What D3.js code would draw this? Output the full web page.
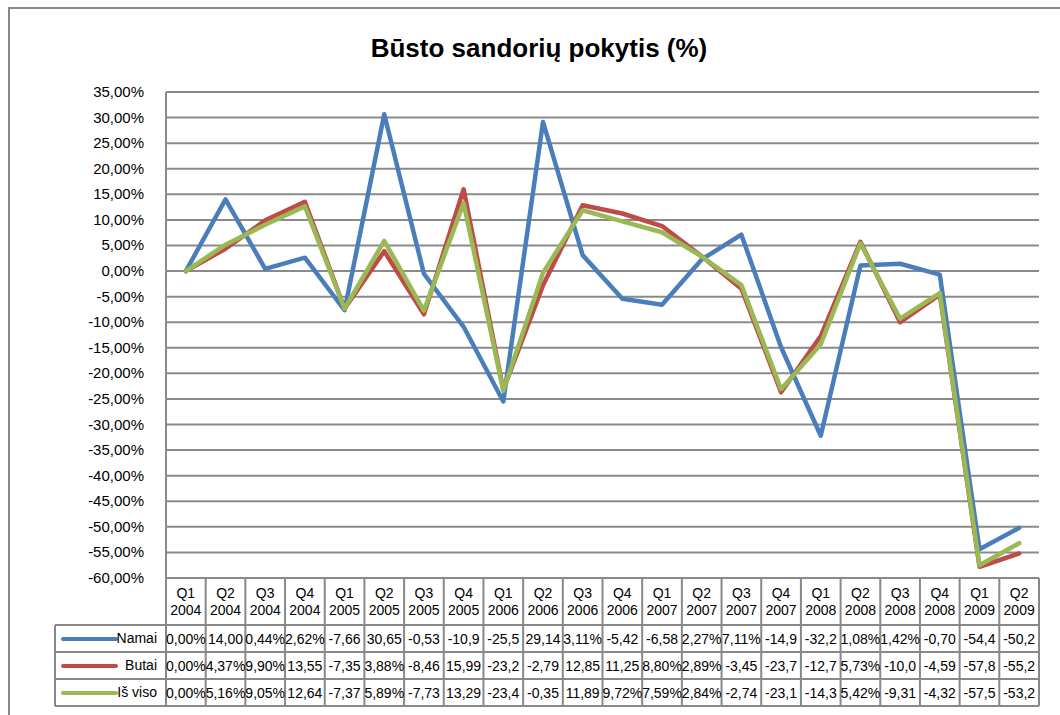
<!DOCTYPE html>
<html>
<head>
<meta charset="utf-8">
<script src="https://cdn.jsdelivr.net/npm/d3@7"></script>
<style>
  body { margin: 0; background: #fff; }
  text { font-family: "Liberation Sans", Arial, sans-serif; fill: #000; }
</style>
</head>
<body>
<div id="chart"></div>
<script>
// Data
var quarters = ["Q1","Q2","Q3","Q4","Q1","Q2","Q3","Q4","Q1","Q2","Q3","Q4","Q1","Q2","Q3","Q4","Q1","Q2","Q3","Q4","Q1","Q2"];
var years = ["2004","2004","2004","2004","2005","2005","2005","2005","2006","2006","2006","2006","2007","2007","2007","2007","2008","2008","2008","2008","2009","2009"];
var namai = [0, 14.00, 0.44, 2.62, -7.66, 30.65, -0.53, -10.9, -25.5, 29.14, 3.11, -5.42, -6.58, 2.27, 7.11, -14.9, -32.2, 1.08, 1.42, -0.70, -54.4, -50.2];
var butai = [0, 4.37, 9.90, 13.55, -7.35, 3.88, -8.46, 15.99, -23.2, -2.79, 12.85, 11.25, 8.80, 2.89, -3.45, -23.7, -12.7, 5.73, -10.0, -4.59, -57.8, -55.2];
var isViso = [0, 5.16, 9.05, 12.64, -7.37, 5.89, -7.73, 13.29, -23.4, -0.35, 11.89, 9.72, 7.59, 2.84, -2.74, -23.1, -14.3, 5.42, -9.31, -4.32, -57.5, -53.2];
var seriesNames = ["Namai", "Butai", "Iš viso"];
var seriesColors = ["#4a7ebb", "#be4b48", "#98b954"];
var yTicks = [35, 30, 25, 20, 15, 10, 5, 0, -5, -10, -15, -20, -25, -30, -35, -40, -45, -50, -55, -60];

var series = [namai, butai, isViso];
var cats = quarters.map(function(q, i) { return q + " " + years[i]; });

var W = 1060, H = 715;
var plotLeft = 166, plotRight = 1039, plotTop = 92, plotBottom = 578;

var svg = d3.select("#chart")
  .append("svg")
    .attr("width", W)
    .attr("height", H);

// outer frame
svg.append("path")
  .attr("d", "M9,715 V8 H1060")
  .attr("fill", "none")
  .attr("stroke", "#888")
  .attr("stroke-width", 2);

// title
svg.append("text")
  .attr("x", 539)
  .attr("y", 57)
  .attr("text-anchor", "middle")
  .style("font-size", "26px")
  .style("font-weight", "bold")
  .text("Būsto sandorių pokytis (%)");

var x = d3.scaleBand()
  .domain(cats)
  .range([plotLeft, plotRight]);

var y = d3.scaleLinear()
  .domain([-60, 35])
  .range([plotBottom, plotTop]);

// horizontal gridlines
svg.append("g")
  .selectAll("line")
  .data(yTicks)
  .enter()
  .append("line")
    .attr("x1", plotLeft)
    .attr("x2", plotRight)
    .attr("y1", function(d) { return y(d); })
    .attr("y2", function(d) { return y(d); })
    .attr("stroke", "#8a8a8a")
    .attr("stroke-width", 2);

// y axis labels
var fmt = function(d) { return d.toFixed(2).replace(".", ",") + "%"; };
svg.append("g")
  .selectAll("text")
  .data(yTicks)
  .enter()
  .append("text")
    .attr("x", 144)
    .attr("y", function(d) { return y(d) + 5; })
    .attr("text-anchor", "end")
    .style("font-size", "15px")
    .text(fmt);

// left axis line
svg.append("line")
  .attr("x1", plotLeft).attr("x2", plotLeft)
  .attr("y1", plotTop).attr("y2", plotBottom)
  .attr("stroke", "#8a8a8a")
  .attr("stroke-width", 2);

// data table
var rowTop = 625, rowH = 27, tableBottom = rowTop + rowH * 3, legLeft = 55;
var tg = svg.append("g");
var bc = "#888";

// vertical cell borders in the header and rows
var edges = cats.map(function(c) { return x(c); }).concat([plotRight]);
tg.selectAll("line.v")
  .data(edges)
  .enter()
  .append("line")
    .attr("class", "v")
    .attr("x1", function(d) { return d; })
    .attr("x2", function(d) { return d; })
    .attr("y1", plotBottom)
    .attr("y2", tableBottom)
    .attr("stroke", bc)
    .attr("stroke-width", 2);

// horizontal borders
tg.selectAll("line.h")
  .data([rowTop, rowTop + rowH, rowTop + 2 * rowH, tableBottom])
  .enter()
  .append("line")
    .attr("class", "h")
    .attr("x1", legLeft)
    .attr("x2", plotRight)
    .attr("y1", function(d) { return d; })
    .attr("y2", function(d) { return d; })
    .attr("stroke", bc)
    .attr("stroke-width", 2);

tg.append("line")
  .attr("x1", legLeft).attr("x2", legLeft)
  .attr("y1", rowTop).attr("y2", tableBottom)
  .attr("stroke", bc).attr("stroke-width", 2);

// header labels
var hdr = tg.selectAll("g.hdr")
  .data(cats)
  .enter()
  .append("g")
    .attr("class", "hdr");
hdr.append("text")
  .attr("x", function(d) { return x(d) + x.bandwidth() / 2; })
  .attr("y", 598)
  .attr("text-anchor", "middle")
  .style("font-size", "14px")
  .text(function(d, i) { return quarters[i]; });
hdr.append("text")
  .attr("x", function(d) { return x(d) + x.bandwidth() / 2; })
  .attr("y", 615)
  .attr("text-anchor", "middle")
  .style("font-size", "14px")
  .text(function(d, i) { return years[i]; });

// value rows
var cellText = function(v) { return (v.toFixed(2).replace(".", ",") + "%").slice(0, 5); };
series.forEach(function(s, si) {
  var ry = rowTop + si * rowH;
  tg.append("line")
    .attr("x1", 63).attr("x2", 116)
    .attr("y1", ry + 14).attr("y2", ry + 14)
    .attr("stroke", seriesColors[si])
    .attr("stroke-width", 4)
    .attr("stroke-linecap", "round");
  tg.append("text")
    .attr("x", 157)
    .attr("y", ry + 18)
    .attr("text-anchor", "end")
    .style("font-size", "14px")
    .text(seriesNames[si]);
  tg.selectAll("text.v" + si)
    .data(s)
    .enter()
    .append("text")
      .attr("class", "v" + si)
      .attr("x", function(d, i) { return x(cats[i]) + x.bandwidth() / 2; })
      .attr("y", ry + 19)
      .attr("text-anchor", "middle")
      .style("font-size", "14px")
      .text(cellText);
});

// lines
var line = d3.line()
  .x(function(d, i) { return x(cats[i]) + x.bandwidth() / 2; })
  .y(function(d) { return y(d); });

series.forEach(function(s, si) {
  svg.append("path")
    .datum(s)
    .attr("d", line)
    .attr("fill", "none")
    .attr("stroke", seriesColors[si])
    .attr("stroke-width", 4.5)
    .attr("stroke-linejoin", "round")
    .attr("stroke-linecap", "round");
});
</script>
</body>
</html>
